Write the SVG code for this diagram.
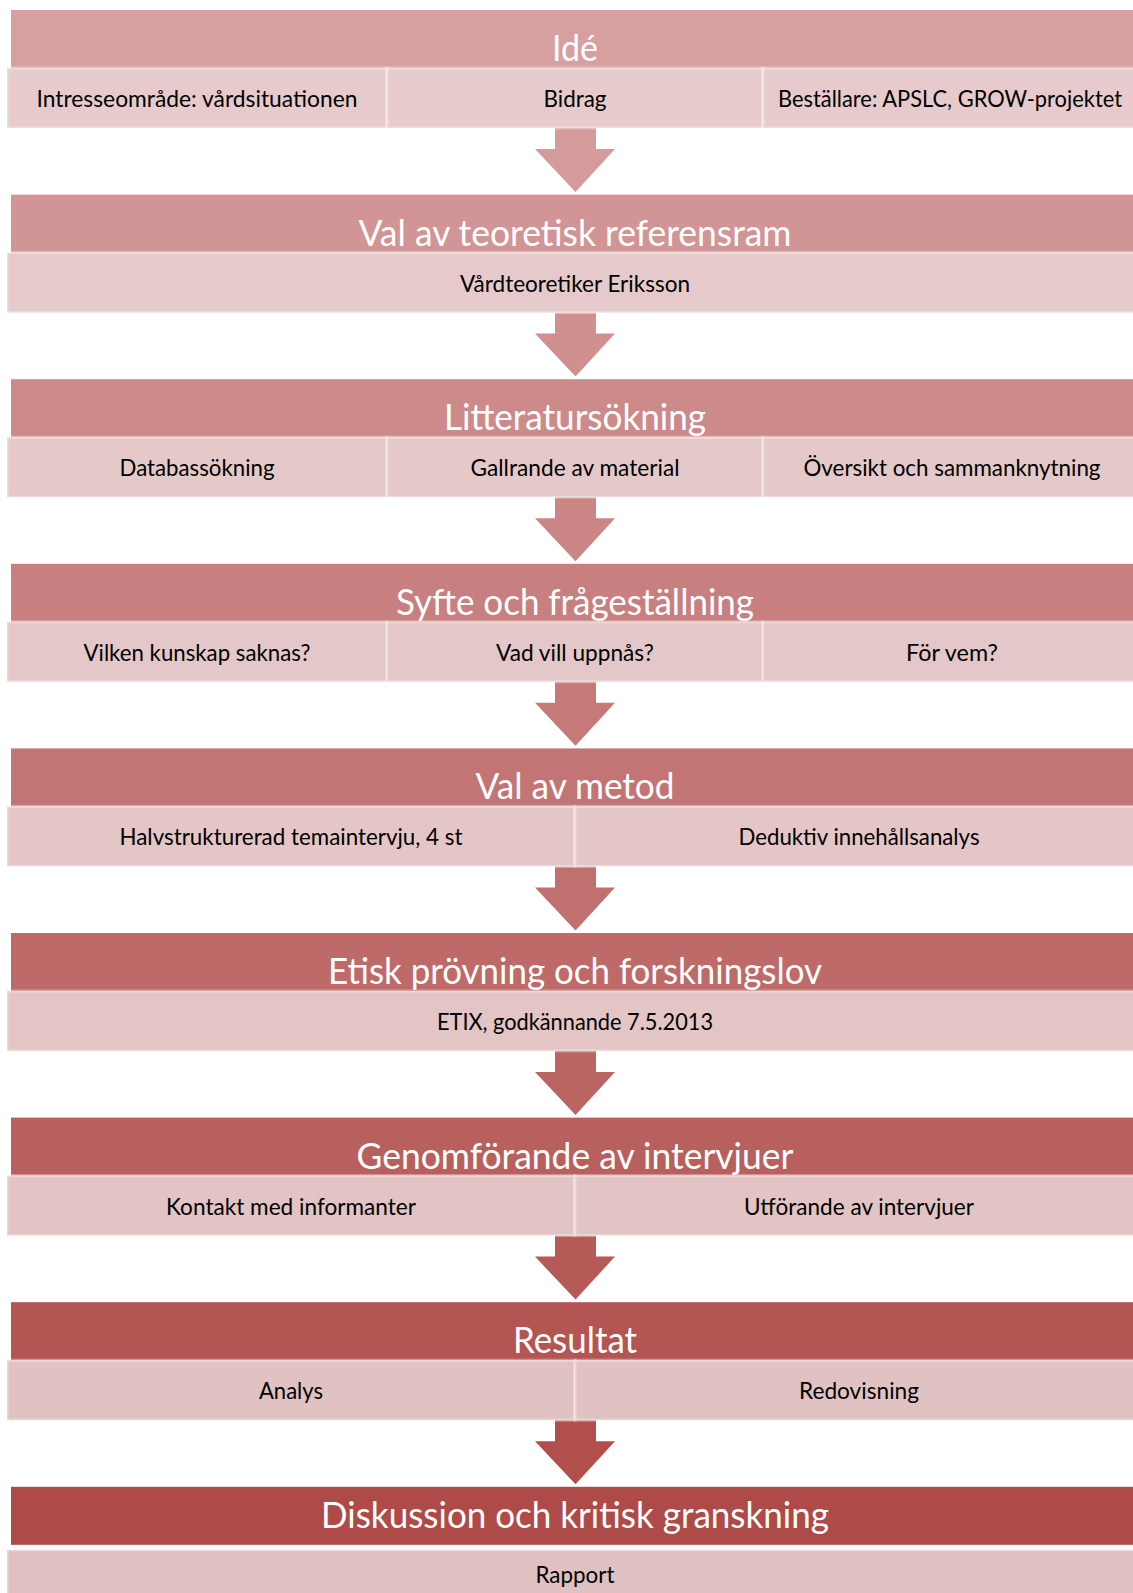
<svg xmlns="http://www.w3.org/2000/svg" width="1133" height="1593" viewBox="0 0 1133 1593">
<style>
.hd{stroke:none}
.sb{stroke:#ffffff;stroke-opacity:0.35;stroke-width:3}
.tt{font-family:Lato,"Liberation Sans",sans-serif;font-size:37px;fill:#ffffff;text-anchor:middle}
.st{font-family:Lato,"Liberation Sans",sans-serif;font-size:23px;fill:#000000;text-anchor:middle}
</style>
<defs>
<polygon id="arr" points="555,128 596,128 596,149 615,149 575.5,192 535,149 555,149"/>
</defs>
<rect width="1133" height="1593" fill="#ffffff"/>

<g id="connectors">
<use href="#arr" fill="#D49B9A"/>
<use href="#arr" fill="#CF908F" transform="translate(0,184.6)"/>
<use href="#arr" fill="#CA8584" transform="translate(0,369.2)"/>
<use href="#arr" fill="#C57A79" transform="translate(0,553.8)"/>
<use href="#arr" fill="#C0706E" transform="translate(0,738.4)"/>
<use href="#arr" fill="#BB6563" transform="translate(0,923)"/>
<use href="#arr" fill="#B65A58" transform="translate(0,1107.6)"/>
<use href="#arr" fill="#B14F4D" transform="translate(0,1292.2)"/>
</g>

<g id="node-ide">
<rect class="hd" x="11" y="10" width="1128" height="58" fill="#D6A0A0"/>
<text class="tt" x="575" y="61" textLength="46" lengthAdjust="spacingAndGlyphs">Idé</text>
<rect class="sb" x="7" y="68" width="380" height="60" fill="#E7CBCC"/>
<rect class="sb" x="387" y="68" width="376" height="60" fill="#E7CBCC"/>
<rect class="sb" x="763" y="68" width="380" height="60" fill="#E7CBCC"/>
<text class="st" x="197" y="107" textLength="321" lengthAdjust="spacingAndGlyphs">Intresseområde: vårdsituationen</text>
<text class="st" x="575" y="107" textLength="63" lengthAdjust="spacingAndGlyphs">Bidrag</text>
<text class="st" x="950" y="107" textLength="344" lengthAdjust="spacingAndGlyphs">Beställare: APSLC, GROW-projektet</text>
</g>

<g id="node-teori" transform="translate(0,184.6)">
<rect class="hd" x="11" y="10" width="1128" height="58" fill="#D19595"/>
<text class="tt" x="575" y="61" textLength="433" lengthAdjust="spacingAndGlyphs">Val av teoretisk referensram</text>
<rect class="sb" x="7" y="68" width="1136" height="60" fill="#E6CACB"/>
<text class="st" x="575" y="107" textLength="230" lengthAdjust="spacingAndGlyphs">Vårdteoretiker Eriksson</text>
</g>

<g id="node-litteratur" transform="translate(0,369.2)">
<rect class="hd" x="11" y="10" width="1128" height="58" fill="#CC8B8A"/>
<text class="tt" x="575" y="61" textLength="262" lengthAdjust="spacingAndGlyphs">Litteratursökning</text>
<rect class="sb" x="7" y="68" width="380" height="60" fill="#E5C9C9"/>
<rect class="sb" x="387" y="68" width="376" height="60" fill="#E5C9C9"/>
<rect class="sb" x="763" y="68" width="380" height="60" fill="#E5C9C9"/>
<text class="st" x="197" y="107" textLength="155" lengthAdjust="spacingAndGlyphs">Databassökning</text>
<text class="st" x="575" y="107" textLength="209" lengthAdjust="spacingAndGlyphs">Gallrande av material</text>
<text class="st" x="952" y="107" textLength="297" lengthAdjust="spacingAndGlyphs">Översikt och sammanknytning</text>
</g>

<g id="node-syfte" transform="translate(0,553.8)">
<rect class="hd" x="11" y="10" width="1128" height="58" fill="#C7807F"/>
<text class="tt" x="575" y="61" textLength="358" lengthAdjust="spacingAndGlyphs">Syfte och frågeställning</text>
<rect class="sb" x="7" y="68" width="380" height="60" fill="#E4C7C8"/>
<rect class="sb" x="387" y="68" width="376" height="60" fill="#E4C7C8"/>
<rect class="sb" x="763" y="68" width="380" height="60" fill="#E4C7C8"/>
<text class="st" x="197" y="107" textLength="227" lengthAdjust="spacingAndGlyphs">Vilken kunskap saknas?</text>
<text class="st" x="575" y="107" textLength="158" lengthAdjust="spacingAndGlyphs">Vad vill uppnås?</text>
<text class="st" x="952" y="107" textLength="92" lengthAdjust="spacingAndGlyphs">För vem?</text>
</g>

<g id="node-metod" transform="translate(0,738.4)">
<rect class="hd" x="11" y="10" width="1128" height="58" fill="#C27574"/>
<text class="tt" x="575" y="61" textLength="199" lengthAdjust="spacingAndGlyphs">Val av metod</text>
<rect class="sb" x="7" y="68" width="568" height="60" fill="#E4C6C7"/>
<rect class="sb" x="575" y="68" width="568" height="60" fill="#E4C6C7"/>
<text class="st" x="291" y="107" textLength="343" lengthAdjust="spacingAndGlyphs">Halvstrukturerad temaintervju, 4 st</text>
<text class="st" x="859" y="107" textLength="241" lengthAdjust="spacingAndGlyphs">Deduktiv innehållsanalys</text>
</g>

<g id="node-etik" transform="translate(0,923)">
<rect class="hd" x="11" y="10" width="1128" height="58" fill="#BD6A68"/>
<text class="tt" x="575" y="61" textLength="494" lengthAdjust="spacingAndGlyphs">Etisk prövning och forskningslov</text>
<rect class="sb" x="7" y="68" width="1136" height="60" fill="#E3C5C5"/>
<text class="st" x="575" y="107" textLength="276" lengthAdjust="spacingAndGlyphs">ETIX, godkännande 7.5.2013</text>
</g>

<g id="node-genomforande" transform="translate(0,1107.6)">
<rect class="hd" x="11" y="10" width="1128" height="58" fill="#B8605D"/>
<text class="tt" x="575" y="61" textLength="437" lengthAdjust="spacingAndGlyphs">Genomförande av intervjuer</text>
<rect class="sb" x="7" y="68" width="568" height="60" fill="#E2C4C4"/>
<rect class="sb" x="575" y="68" width="568" height="60" fill="#E2C4C4"/>
<text class="st" x="291" y="107" textLength="250" lengthAdjust="spacingAndGlyphs">Kontakt med informanter</text>
<text class="st" x="859" y="107" textLength="230" lengthAdjust="spacingAndGlyphs">Utförande av intervjuer</text>
</g>

<g id="node-resultat" transform="translate(0,1292.2)">
<rect class="hd" x="11" y="10" width="1128" height="58" fill="#B35552"/>
<text class="tt" x="575" y="61" textLength="124" lengthAdjust="spacingAndGlyphs">Resultat</text>
<rect class="sb" x="7" y="68" width="568" height="60" fill="#E1C2C3"/>
<rect class="sb" x="575" y="68" width="568" height="60" fill="#E1C2C3"/>
<text class="st" x="291" y="107" textLength="64" lengthAdjust="spacingAndGlyphs">Analys</text>
<text class="st" x="859" y="107" textLength="120" lengthAdjust="spacingAndGlyphs">Redovisning</text>
</g>

<g id="node-diskussion" transform="translate(0,1476.8)">
<rect class="hd" x="11" y="10" width="1128" height="58" fill="#AE4A47"/>
<text class="tt" x="575" y="51" textLength="508" lengthAdjust="spacingAndGlyphs">Diskussion och kritisk granskning</text>
<rect class="sb" x="7" y="73" width="1136" height="60" fill="#E0C1C1"/>
<text class="st" x="575" y="106" textLength="79" lengthAdjust="spacingAndGlyphs">Rapport</text>
</g>
</svg>
